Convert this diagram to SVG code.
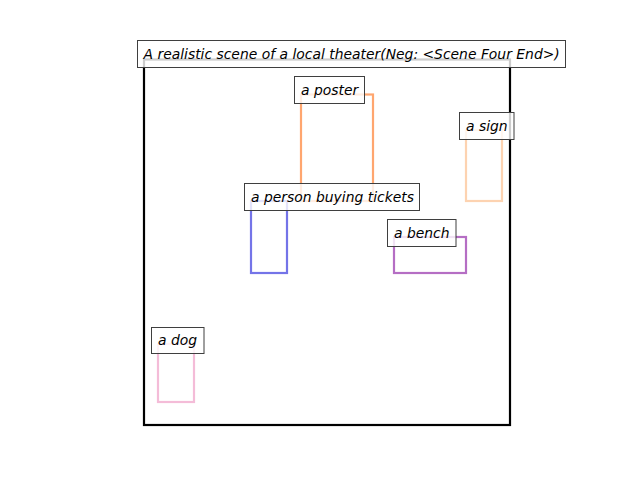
<svg xmlns="http://www.w3.org/2000/svg" width="640" height="480" viewBox="0 0 640 480">
<style>
.box{fill:none;stroke-width:2.2}
.lbl rect{fill:#fff;fill-opacity:0.8;stroke:#3f3f3f;stroke-width:1}
.lbl text{font-family:"DejaVu Sans",sans-serif;font-style:italic;font-size:13.9px;fill:#000}
</style>
<rect width="640" height="480" fill="#fff"/>
<g id="frame"><rect x="144" y="59.5" width="366" height="365.5" fill="none" stroke="#000" stroke-width="2.2"/></g>
<g id="connectors"></g>
<g id="poster-box"><rect class="box" x="301" y="94.5" width="72" height="106.5" stroke="#ffa66f"/></g>
<g id="sign-box"><rect class="box" x="466" y="130" width="36" height="71" stroke="#fdd3b1"/></g>
<g id="person-box"><rect class="box" x="251" y="201" width="36" height="72" stroke="#7474e8"/></g>
<g id="bench-box"><rect class="box" x="394" y="237" width="72" height="36" stroke="#b56ec4"/></g>
<g id="dog-box"><rect class="box" x="158" y="344" width="36" height="58" stroke="#f4bcd8"/></g>
<g id="title" class="lbl"><rect x="137.5" y="40.5" width="428" height="27"/><text x="143.5" y="58.5">A realistic scene of a local theater(Neg: &lt;Scene Four End&gt;)</text></g>
<g id="poster" class="lbl"><rect x="294.5" y="76.5" width="70" height="27"/><text x="301" y="94.5">a poster</text></g>
<g id="sign" class="lbl"><rect x="459.5" y="112.5" width="54.5" height="27"/><text x="466" y="130.5">a sign</text></g>
<g id="person" class="lbl"><rect x="244.5" y="183.5" width="175" height="27"/><text x="251" y="201.5">a person buying tickets</text></g>
<g id="bench" class="lbl"><rect x="387.5" y="219.5" width="68.5" height="27"/><text x="394" y="237.5">a bench</text></g>
<g id="dog" class="lbl"><rect x="151.5" y="327.5" width="52.5" height="26"/><text x="158" y="345">a dog</text></g>
</svg>
